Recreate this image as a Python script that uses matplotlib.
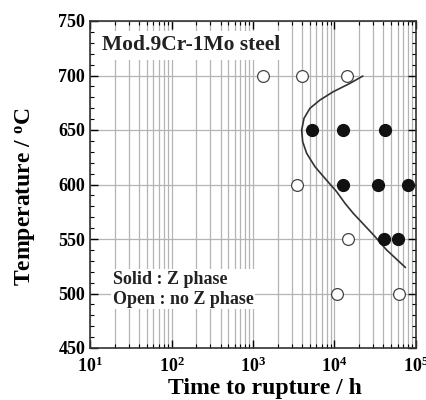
import numpy as np
import matplotlib
matplotlib.use('Agg')
import matplotlib.pyplot as plt
from matplotlib.ticker import LogLocator, MultipleLocator

plt.rcParams['font.family'] = 'Liberation Serif'
plt.rcParams['font.weight'] = 'bold'
plt.rcParams['mathtext.fontset'] = 'custom'
plt.rcParams['mathtext.rm'] = 'Liberation Serif:bold'
plt.rcParams['mathtext.it'] = 'Liberation Serif:bold'
plt.rcParams['mathtext.bf'] = 'Liberation Serif:bold'

# open symbols: no Z phase
open_t = [1320, 4000, 14100, 3450, 14700, 10800, 62000]
open_T = [700, 700, 700, 600, 550, 500, 500]
# solid symbols: Z phase
solid_t = [5300, 12700, 42000, 12700, 34000, 80000, 41000, 60000]
solid_T = [650, 650, 650, 600, 600, 600, 550, 550]
# boundary curve
curve_t = [22180, 15490, 9660, 6640, 5000, 4230, 3960, 4070, 4560, 5770,
           7640, 10640, 13460, 17000, 30200, 43600, 74100]
curve_T = [699.4, 692.8, 685.1, 677.5, 669.9, 660.7, 650, 639.3, 628.6, 616.3,
           605.7, 593.4, 582.8, 573.6, 553.7, 540, 524]

fig = plt.figure(figsize=(4.27, 4.0), dpi=100)
ax = fig.add_axes([0.211, 0.13, 0.763, 0.8175])

ax.set_xscale('log')
ax.set_xlim(10, 1e5)
ax.set_ylim(450, 750)

ax.xaxis.set_major_locator(LogLocator(base=10))
ax.xaxis.set_minor_locator(LogLocator(base=10, subs=np.arange(2, 10)))
ax.yaxis.set_major_locator(MultipleLocator(50))
ax.yaxis.set_minor_locator(MultipleLocator(10))

ax.grid(True, which='both', axis='x', color='#b4b4b4', lw=0.9)
ax.grid(True, which='major', axis='y', color='#b4b4b4', lw=0.9)
ax.set_axisbelow(True)

ax.plot(curve_t, curve_T, color='#333333', lw=1.2, zorder=3)
ax.plot(open_t, open_T, 'o', ms=8.5, mfc='white', mec='#444444', mew=0.9, zorder=4)
ax.plot(solid_t, solid_T, 'o', ms=8.5, mfc='#111111', mec='#111111', zorder=4)

ax.tick_params(which='both', direction='in', top=True, right=True, labelsize=13)
ax.tick_params(which='major', length=6, width=1)
ax.tick_params(which='minor', length=3, width=0.8)
ax.tick_params(axis='x', pad=6)

for s in ax.spines.values():
    s.set_linewidth(1.2)
    s.set_color('#333333')

ax.set_xlabel('Time to rupture / h', fontsize=17, fontweight='bold')
ax.set_ylabel('Temperature / $^{\\rm o}$C', fontsize=17, fontweight='bold')
ax.xaxis.set_label_coords(0.537, -0.093)
ax.yaxis.set_label_coords(-0.16, 0.462)

ax.text(0.035, 0.91, 'Mod.9Cr-1Mo steel', transform=ax.transAxes, fontsize=15.5,
        fontweight='bold', color='#222222', zorder=5,
        bbox=dict(facecolor='white', edgecolor='none', pad=3))
ax.text(0.07, 0.135, 'Solid : Z phase\nOpen : no Z phase', transform=ax.transAxes,
        fontsize=13, fontweight='bold', color='#222222', linespacing=1.25, zorder=5,
        bbox=dict(facecolor='white', edgecolor='none', pad=1))

fig.savefig('out.png', dpi=100)
